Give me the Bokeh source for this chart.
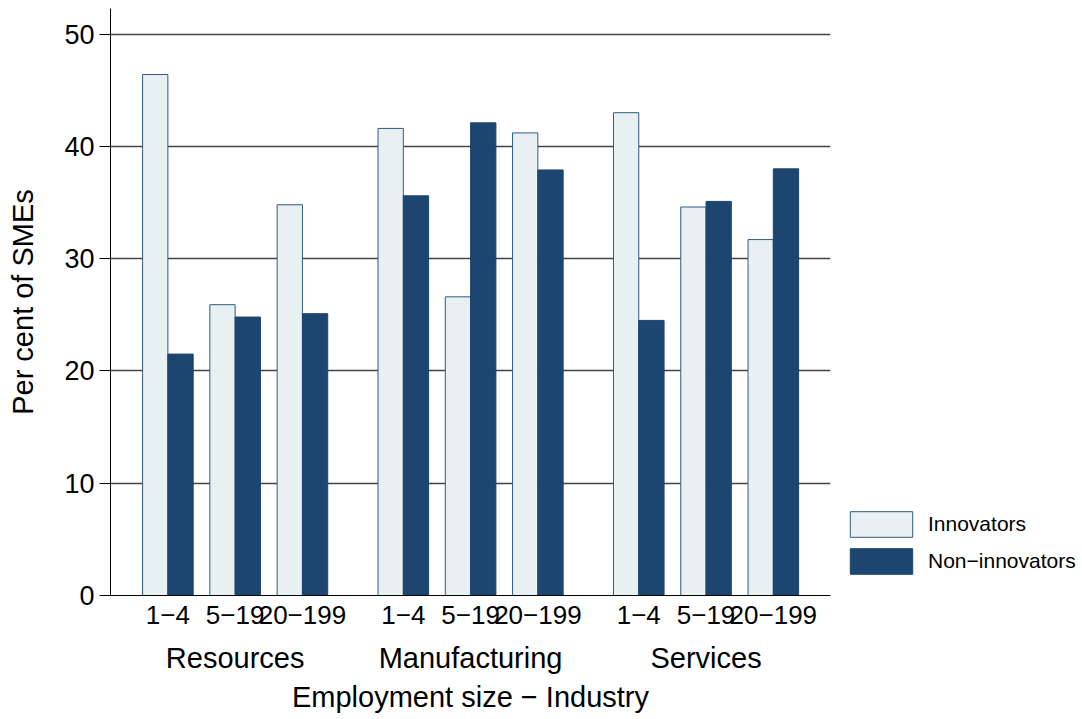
from bokeh.plotting import figure
from bokeh.models import (ColumnDataSource, FixedTicker, LinearAxis, Range1d,
                          Legend, LegendItem)
from bokeh.embed import file_html
from bokeh.resources import INLINE

# ---- data ----
industries = ["Resources", "Manufacturing", "Services"]
sizes = ["1\u22124", "5\u221219", "20\u2212199"]
innovators = [46.4, 25.9, 34.8, 41.6, 26.6, 41.2, 43.0, 34.6, 31.7]
non_innovators = [21.5, 24.8, 25.1, 35.6, 42.1, 37.9, 24.5, 35.1, 38.0]
y_ticks = [0, 10, 20, 30, 40, 50]

FONT = "Liberation Sans"
LIGHT = "#e8f0f2"
LIGHT_LINE = "#2f5a82"
DARK = "#1c466f"

# slot layout: 3 sizes per industry, 1.5 slot gap centre-to-centre between industries
group_step = 3.5
bw = 0.376
centers, labels = [], []
for i, ind in enumerate(industries):
    for j, s in enumerate(sizes):
        centers.append(i * group_step + j)
        labels.append(s)
group_centers = [i * group_step + 1 for i in range(len(industries))]

src = ColumnDataSource(dict(
    x_in=[c - bw / 2 for c in centers],
    x_non=[c + bw / 2 for c in centers],
    inn=innovators,
    non=non_innovators,
))

p = figure(frame_width=720, frame_height=587, output_backend="svg", toolbar_location=None,
           x_range=Range1d(-0.853, 9.85), y_range=Range1d(0, 52.28),
           min_border_left=110, min_border_right=250, min_border_top=8,
           min_border_bottom=116)
p.outline_line_color = None
p.background_fill_color = "white"

r_in = p.vbar(x="x_in", top="inn", bottom=0, width=bw, source=src,
              fill_color=LIGHT, line_color=LIGHT_LINE, line_width=1)
r_non = p.vbar(x="x_non", top="non", bottom=0, width=bw, source=src,
               fill_color=DARK, line_color=DARK, line_width=1)

# grid
p.xgrid.visible = False
p.ygrid.ticker = FixedTicker(ticks=[10, 20, 30, 40, 50])
p.ygrid.grid_line_color = "#444444"
p.ygrid.grid_line_width = 1.3

# y axis
p.yaxis.ticker = FixedTicker(ticks=y_ticks)
p.yaxis.minor_tick_line_color = None
p.yaxis.major_tick_out = 11
p.yaxis.major_tick_in = 0
p.yaxis.major_tick_line_color = "black"
p.yaxis.axis_line_color = "black"
p.yaxis.major_label_text_font = FONT
p.yaxis.major_label_text_font_size = "27px"
p.yaxis.major_label_text_color = "black"
p.yaxis.major_label_standoff = 5
p.yaxis.axis_label = "Per cent of SMEs"
p.yaxis.axis_label_text_font = FONT
p.yaxis.axis_label_text_font_size = "29px"
p.yaxis.axis_label_text_font_style = "normal"
p.yaxis.axis_label_text_color = "black"
p.yaxis.axis_label_standoff = 22

# x axis: size labels
p.xaxis.ticker = FixedTicker(ticks=centers)
p.xaxis.major_label_overrides = {c: l for c, l in zip(centers, labels)}
p.xaxis.major_tick_out = 0
p.xaxis.major_tick_in = 0
p.xaxis.minor_tick_line_color = None
p.xaxis.axis_line_color = "black"
p.xaxis.major_label_text_font = FONT
p.xaxis.major_label_text_font_size = "26px"
p.xaxis.major_label_text_color = "black"
p.xaxis.major_label_standoff = 10

# second x axis: industries + title
ax2 = LinearAxis(ticker=FixedTicker(ticks=group_centers),
                 major_label_overrides={c: n for c, n in zip(group_centers, industries)})
ax2.axis_line_color = None
ax2.major_tick_line_color = None
ax2.minor_tick_line_color = None
ax2.major_label_text_font = FONT
ax2.major_label_text_font_size = "29px"
ax2.major_label_text_color = "black"
ax2.major_label_standoff = 9
ax2.axis_label = "Employment size \u2212 Industry"
ax2.axis_label_text_font = FONT
ax2.axis_label_text_font_size = "29px"
ax2.axis_label_text_font_style = "normal"
ax2.axis_label_text_color = "black"
ax2.axis_label_standoff = 4
p.add_layout(ax2, "below")

legend = Legend(items=[LegendItem(label="Innovators", renderers=[r_in]),
                       LegendItem(label="Non\u2212innovators", renderers=[r_non])],
                location=(12, 18.5), orientation="vertical",
                padding=0, margin=0, spacing=5,
                glyph_width=78, glyph_height=32, label_height=32,
                label_standoff=8, label_text_font=FONT,
                label_text_font_size="21px", label_text_color="black",
                border_line_color=None, background_fill_alpha=0)
p.add_layout(legend, "right")

open("out.html", "w").write(file_html(p, INLINE))
